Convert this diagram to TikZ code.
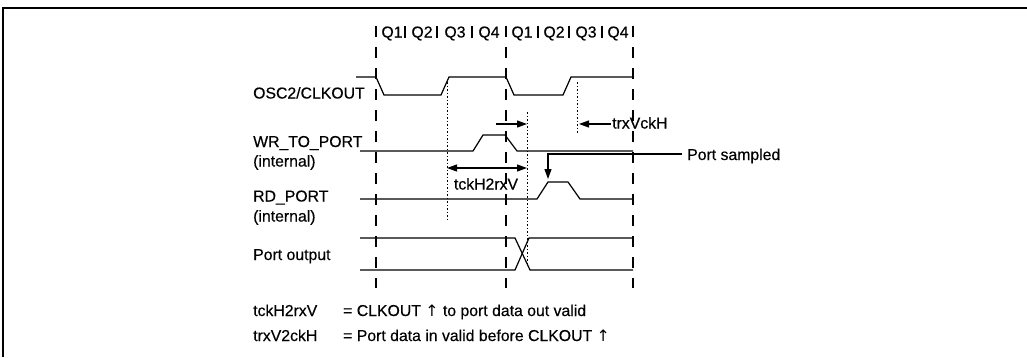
\documentclass[tikz,border=0pt]{standalone}
\usepackage{fontspec}
\setmainfont{Liberation Sans}[FakeBold=0.4]
\newfontfamily\arrowfont{DejaVu Sans}
\usetikzlibrary{calc, arrows.meta}

\begin{document}
\begin{tikzpicture}[x=1pt, y=-1pt,
    txt/.style={anchor=base west, inner sep=0pt, font=\fontsize{15.8}{17}\selectfont},
    qtxt/.style={anchor=base, inner sep=0pt, font=\fontsize{15.8}{17}\selectfont},
    sig/.style={line width=1.2pt},
    cyc/.style={line width=1.2pt, dash pattern=on 11pt off 10pt},
    dots/.style={line width=1pt, dash pattern=on 1.5pt off 2pt},
    arr/.style={line width=1.2pt, -{Triangle[length=10pt, width=7pt]}},
    darr/.style={line width=1.2pt, {Triangle[length=10pt, width=7pt]}-{Triangle[length=10pt, width=7pt]}}]
    \useasboundingbox (0,0) rectangle (1027,357);
    % frame
    \draw[line width=1.5pt] (3,357) -- (3,8) -- (1027,8);
    % Q slots
    \foreach \q/\x [count=\i] in {Q1/392, Q2/422, Q3/455, Q4/489, Q1/522, Q2/554, Q3/586, Q4/618}
        \node[qtxt] (q\i) at (\x,37.5) {\q};
    \foreach \x in {405, 437, 472, 538, 569, 602}
        \draw[line width=1.2pt] (\x,26) -- (\x,38);
    \foreach \x in {376, 506, 633}
        \draw[cyc] (\x,26) -- (\x,288);
    % signal names
    \node[txt] (osc) at (253,98.5) {OSC2/CLKOUT};
    \node[txt] (wr) at (253,147) {WR\_TO\_PORT};
    \node[txt] (wrint) at (253,166.5) {(internal)};
    \node[txt] (rd) at (253,201.5) {RD\_PORT};
    \node[txt] (rdint) at (253,221.5) {(internal)};
    \node[txt] (port) at (253,260) {Port output};
    % waveforms
    \draw[sig] (356,77) -- (376,77) -- (384,95) -- (441,95) -- (449,77) -- (506,77)
        -- (514,95) -- (563,95) -- (571,77) -- (633,77);
    \draw[sig] (360,151) -- (473,151) -- (483,135) -- (505,135) -- (517,151) -- (633,151);
    \draw[sig] (360,199) -- (537,199) -- (548,182) -- (568,182) -- (580,199) -- (633,199);
    \draw[sig] (360,238) -- (515,238) -- (530,270) -- (633,270);
    \draw[sig] (360,270) -- (515,270) -- (529,238) -- (633,238);
    % timing marks
    \coordinate (riseA) at (447,82);
    \coordinate (riseB) at (577,82);
    \coordinate (valid) at (527,112);
    \draw[dots] (riseA) -- (447,221);
    \draw[dots] (riseB) -- (577,134);
    \draw[dots] (valid) -- (527,264);
    \coordinate (tckL) at (447,168);
    \coordinate (tckR) at (527,168);
    \draw[darr] (tckL) -- (tckR);
    \node[qtxt] (tck) at (486,189.5) {tckH2rxV};
    \coordinate (hold) at (496,124);
    \draw[arr] (hold) -- (valid |- hold);
    \node[txt] (trx) at (612,128.5) {trxVckH};
    \draw[arr] (trx.base west |- hold) ++(-1,0) -- (579,124);
    \node[txt] (sampled) at (687,160) {Port sampled};
    \coordinate (sampleTop) at (548,154);
    \draw[arr] (sampled.west |- sampleTop) ++(-5,0) -- (sampleTop) -- (548,179);
    % legend
    \node[txt] (legA) at (253,316) {tckH2rxV};
    \node[txt] (legAtxt) at (343,316) {= CLKOUT {\arrowfont ↑} to port data out valid};
    \node[txt] (legB) at (253,341) {trxV2ckH};
    \node[txt] (legBtxt) at (343,341) {= Port data in valid before CLKOUT {\arrowfont ↑}};
\end{tikzpicture}
\end{document}
